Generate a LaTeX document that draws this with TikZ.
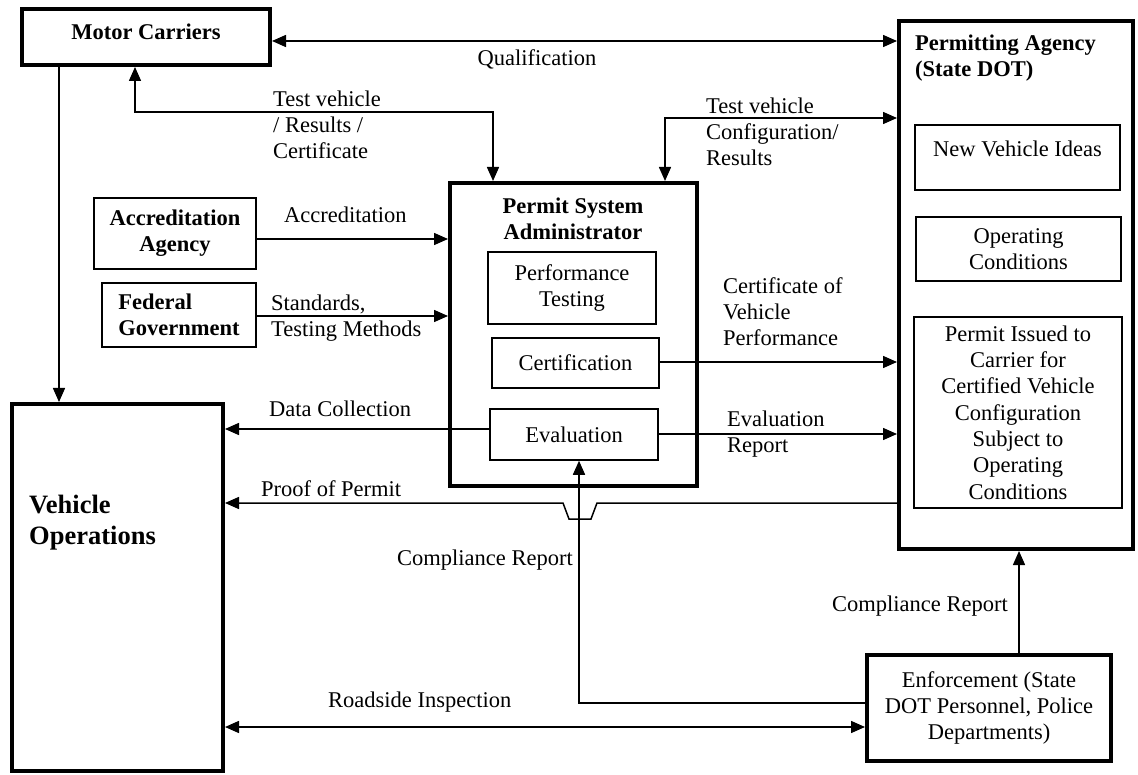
\documentclass[tikz,border=0pt]{standalone}
\usepackage{fontspec}
\setmainfont{Liberation Serif}
\usetikzlibrary{arrows.meta}
\begin{document}
\begin{tikzpicture}[x=1pt,y=-1pt,
  every node/.style={font=\fontsize{22.5}{26.3}\selectfont},
  bf/.style={font=\fontsize{22.5}{26.3}\selectfont\bfseries},
  heavy/.style={draw, rectangle, line width=4pt, inner sep=0pt, outer sep=2pt, align=center},
  light/.style={draw, rectangle, line width=1.5pt, inner sep=0pt, outer sep=0.75pt, align=center},
  conn/.style={line width=1.5pt, -{Triangle[length=14pt,width=12pt]}},
  conn2/.style={line width=1.5pt, {Triangle[length=14pt,width=12pt]}-{Triangle[length=14pt,width=12pt]}},
  lbl/.style={inner sep=0pt, anchor=base west, align=left},
]
\useasboundingbox (0,0) rectangle (1138,775);

% main boxes
\node[heavy, bf, text depth=11pt, minimum width=248pt, minimum height=56pt] (mc) at (146,37) {Motor Carriers};
\node[heavy, minimum width=234pt, minimum height=528pt] (pa) at (1016,285) {};
\node[heavy, minimum width=247pt, minimum height=303pt] (psa) at (573.5,334.5) {};
\node[heavy, minimum width=211pt, minimum height=367pt] (vo) at (117.5,587.5) {};
\node[heavy, minimum width=244pt, minimum height=106pt] (enf) at (989,708) {Enforcement (State\\DOT Personnel, Police\\Departments)};

% inner / small boxes
\node[light, text depth=17pt, minimum width=205pt, minimum height=65pt] (nvi) at (1017.5,157.5) {New Vehicle Ideas};
\node[light, minimum width=205pt, minimum height=64pt] (oc) at (1018.5,249) {Operating\\Conditions};
\node[light, minimum width=208pt, minimum height=191pt] (pi) at (1018,412.5) {Permit Issued to\\Carrier for\\Certified Vehicle\\Configuration\\Subject to\\Operating\\Conditions};
\node[light, minimum width=168pt, minimum height=72pt] (pt) at (572,288) {Performance\\Testing};
\node[light, minimum width=167pt, minimum height=50pt] (cert) at (575.5,363) {Certification};
\node[light, minimum width=168pt, minimum height=51pt] (eval) at (574,434.5) {Evaluation};
\node[light, bf, minimum width=162pt, minimum height=71pt] (aa) at (175,233.5) {Accreditation\\Agency};
\node[light, bf, align=left, minimum width=154pt, minimum height=64pt] (fg) at (179,315) {Federal\\Government};

% box titles (anchor = baseline of last line)
\node[lbl, bf] (tpa) at (915,77) {Permitting Agency\\(State DOT)};
\node[lbl, bf, anchor=base, align=center] (tpsa) at (573,240) {Permit System\\Administrator};
\node[lbl, font=\fontsize{26.5}{31}\selectfont\bfseries] (tvo) at (29,544) {Vehicle\\Operations};

% connectors
\draw[conn2] (mc.east |- 0,41) -- (pa.west |- 0,41);
\draw[conn2] (mc.south -| 135,0) |- (493,112) -- (psa.north -| 493,0);
\draw[conn2] (psa.north -| 665,0) |- (pa.west |- 0,118);
\draw[conn] (aa.east |- 0,239) -- (psa.west |- 0,239);
\draw[conn] (fg.east |- 0,316) -- (psa.west |- 0,316);
\draw[conn] (cert.east |- 0,362) -- (pa.west |- 0,362);
\draw[conn] (eval.east |- 0,434) -- (pa.west |- 0,434);
\draw[conn] (eval.west |- 0,429) -- (vo.east |- 0,429);
\draw[conn] (pa.west |- 0,503) -- (597,503) -- (591,519) -- (569,519) -- (563,503) -- (vo.east |- 0,503);
\draw[conn] (enf.west |- 0,703) -| (eval.south -| 579,0);
\draw[conn] (enf.north -| 1019,0) -- (pa.south -| 1019,0);
\draw[conn2] (vo.east |- 0,727) -- (enf.west |- 0,727);
\draw[conn] (mc.south -| 59,0) -- (vo.north -| 59,0);

% connector labels (anchor = baseline of last line)
\node[lbl, anchor=base] (lq) at (537,66) {Qualification};
\node[lbl] (ltv1) at (273,159) {Test vehicle\\/ Results /\\Certificate};
\node[lbl] (ltv2) at (706,166) {Test vehicle\\Configuration/\\Results};
\node[lbl] (lacc) at (284,223) {Accreditation};
\node[lbl] (lstd) at (271,337) {Standards,\\Testing Methods};
\node[lbl] (lcvp) at (723,346) {Certificate of\\Vehicle\\Performance};
\node[lbl] (ler) at (727,453) {Evaluation\\Report};
\node[lbl] (ldc) at (269,417) {Data Collection};
\node[lbl] (lpp) at (261,496) {Proof of Permit};
\node[lbl] (lcr1) at (397,565) {Compliance Report};
\node[lbl] (lcr2) at (832,611) {Compliance Report};
\node[lbl] (lri) at (328,707) {Roadside Inspection};
\end{tikzpicture}
\end{document}
